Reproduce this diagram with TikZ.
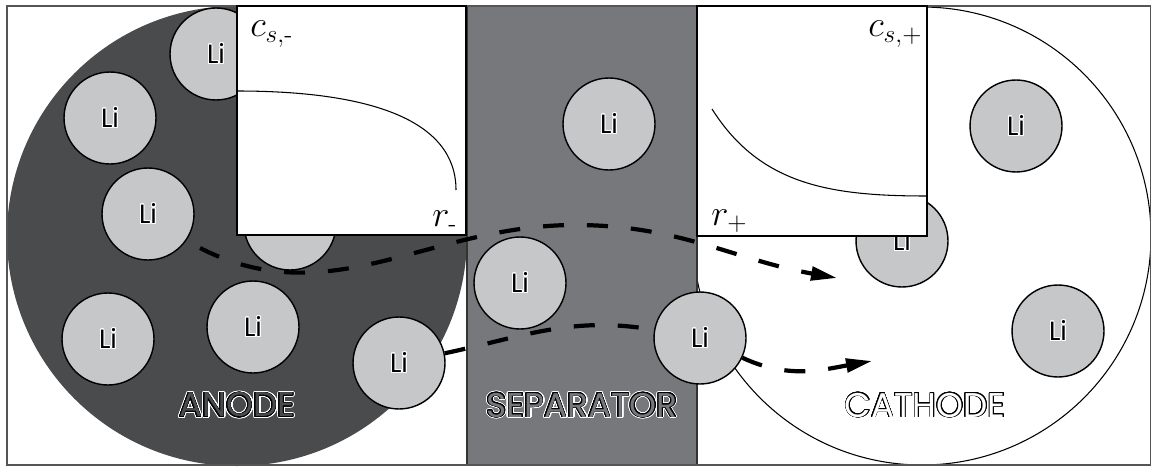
\documentclass[tikz,border=0pt]{standalone}
\usepackage{fontspec}
\usepackage{amsmath}
\usepackage[copies]{contour}
\usetikzlibrary{arrows.meta}
\newfontfamily\gothic{Poppins}
\definecolor{anodegray}{HTML}{4A4B4D}
\definecolor{sepgray}{HTML}{77787B}
\definecolor{iongray}{HTML}{C6C7C8}
\definecolor{framegray}{HTML}{555555}
\contournumber{24}
\newcommand\hollow[2]{\makebox[0pt][l]{\contourlength{1.1pt}\contour{white}{\textcolor{white}{#2}}}\contourlength{0.4pt}\contour{black}{\textcolor{#1}{#2}}}
\newcommand\li{\contourlength{0.5pt}\contour{white}{Li}}
\tikzset{
  ion/.style={circle,draw=black,line width=0.8pt,fill=iongray,minimum size=1.84cm,inner sep=0pt,font=\gothic\fontsize{15}{15}\selectfont},
  inset/.style={draw=black,line width=0.7pt,fill=white},
  region/.style={font=\gothic\fontsize{19.5}{19.5}\selectfont,inner sep=0pt},
  axis/.style={font=\fontsize{20}{20}\selectfont,anchor=base west,inner sep=0pt},
  flow/.style={line width=2.4pt,dash pattern=on 0.42cm off 0.46cm,-{Triangle[length=0.52cm,width=0.27cm]}},
}
\begin{document}
\begin{tikzpicture}[x=0.02cm,y=-0.02cm]
  \useasboundingbox (0,0) rectangle (1151,466);
  \fill[white] (0,0) rectangle (1151,466);
  % electrodes and separator
  \fill[anodegray] (237,236) circle (230);
  \draw[line width=0.6pt,fill=white] (922,236) circle (229);
  \draw[draw=black!80,line width=0.6pt,fill=sepgray] (467,6) rectangle (697,465);
  \draw[framegray,line width=0.9pt] (7,6) rectangle (1151,465);
  % particles
  \node[ion] (li1) at (216,54) {\li};
  \node[ion] (li2) at (110,118) {\li};
  \node[ion] (li3) at (148,214) {\li};
  \node[ion] (li4) at (290,224) {\li};
  \node[ion] (li5) at (108,339) {\li};
  \node[ion] (li6) at (253,327) {\li};
  \node[ion] (li7) at (399,363) {\li};
  \node[ion] (li8) at (609,124) {\li};
  \node[ion] (li9) at (520,283) {\li};
  \node[ion] (li10) at (700,338) {\li};
  \node[ion] (li11) at (1016,126) {\li};
  \node[ion] (li12) at (1058,331) {\li};
  \node[ion] (li13) at (902,241) {\li};
  % concentration insets
  \draw[inset] (237,6) rectangle (466,235);
  \draw[line width=0.6pt] (237,91) .. controls (370,91) and (456,120) .. (456,190);
  \draw[inset] (697,6) rectangle (927,236);
  \draw[line width=0.6pt] (712,109) .. controls (760,185) and (830,196) .. (927,196);
  \node[axis] (cneg) at (250,37) {$c_{s,\text{-}}$};
  \node[axis] (rneg) at (432,226) {$r_{\text{-}}$};
  \node[axis] (rpos) at (711,225) {$r_{+}$};
  \node[axis] (cpos) at (868,37) {$c_{s,+}$};
  % region names
  \node[region] (anode) at (237,406) {\hollow{anodegray}{ANODE}};
  \node[region] (sep) at (582,406) {\hollow{sepgray}{SEPARATOR}};
  \node[region] (cathode) at (925,406) {\hollow{white}{CATHODE}};
  % transport paths
  \coordinate (a1) at (200,248);
  \coordinate (m1) at (575,225);
  \coordinate (t1) at (837,278);
  \coordinate (t2) at (872,361);
  \draw[flow] (a1) to[out=-27,in=180] (m1) to[out=0,in=170] (t1);
  \draw[flow,-] (li7) to[out=12,in=170] (li10);
  \draw[flow] (li10) to[out=-25,in=190] (t2);
\end{tikzpicture}
\end{document}
